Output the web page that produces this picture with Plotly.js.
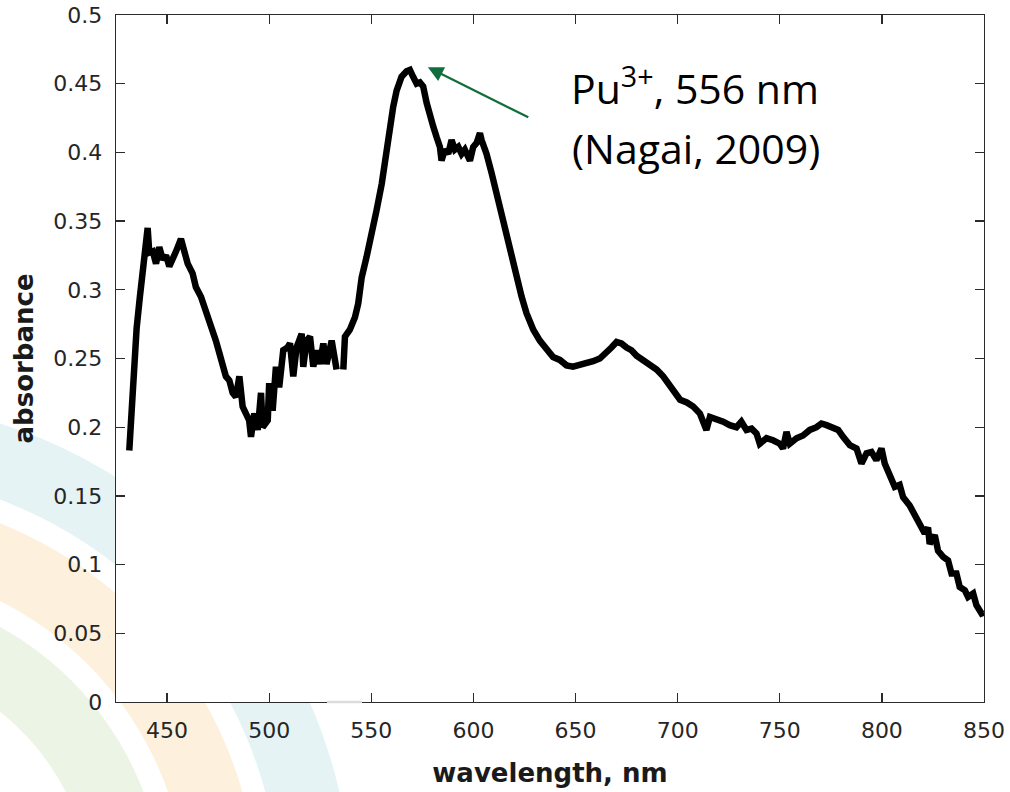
<!DOCTYPE html>
<html>
<head>
<meta charset="utf-8">
<script src="https://cdn.plot.ly/plotly-3.0.1.min.js"></script>
<style>html,body{margin:0;padding:0;background:#fff}#chart{width:1010px;height:792px}</style>
</head>
<body>
<div id="chart"></div>
<script>
// Spectrum: wavelength (nm) and absorbance
var wavelength = [431.5,432.7,433.8,435.1,436.7,438.4,439.2,440.5,441.3,443.0,444.6,446.2,447.9,449.5,451.1,452.8,454.4,456.8,458.4,460.1,462.5,464.1,466.6,468.2,469.9,472.3,473.9,475.6,477.2,478.8,480.5,482.1,483.7,485.4,487.0,488.6,490.2,491.1,492.7,494.4,496.0,496.8,499.3,500.0,501.7,503.3,504.9,506.9,509.0,510.2,511.8,513.4,515.9,516.7,518.3,520.0,521.6,523.2,524.9,526.5,528.1,530.6,533.0,534.6,536.3,537.1,539.5,542.0,543.6,545.3,547.7,550.2,552.6,555.1,556.7,559.1,560.7,562.4,564.8,567.3,568.9,570.5,572.2,573.8,575.4,577.1,578.7,580.3,582.0,583.6,584.4,586.0,587.7,589.3,590.9,592.6,594.2,595.8,598.3,599.9,601.6,603.2,604.0,606.4,608.9,611.3,613.8,616.2,618.7,621.1,623.6,626.0,629.3,632.5,635.8,639.0,642.3,645.6,648.8,652.1,655.4,658.6,661.9,665.2,667.6,670.1,672.5,675.0,677.4,679.9,683.1,686.4,689.7,692.9,696.2,699.1,701.2,704.5,707.6,710.9,714.1,715.8,719.0,722.3,725.5,728.8,731.2,733.7,736.2,738.6,740.2,743.5,746.7,750.0,751.6,753.3,754.9,758.2,761.4,764.7,768.0,770.4,772.9,776.1,778.6,781.0,784.3,787.6,790.0,792.5,794.9,797.3,799.8,801.4,803.9,806.3,808.7,810.4,813.6,816.1,818.5,821.0,822.6,823.4,825.9,827.5,830.0,832.4,834.1,836.5,838.1,840.6,842.2,844.7,846.3,848.8,849.9];
var absorbance = [0.183,0.220,0.245,0.272,0.295,0.314,0.325,0.345,0.327,0.328,0.319,0.331,0.322,0.325,0.317,0.322,0.328,0.337,0.329,0.319,0.312,0.302,0.295,0.288,0.280,0.273,0.263,0.254,0.247,0.237,0.234,0.225,0.222,0.237,0.215,0.210,0.205,0.193,0.210,0.198,0.225,0.200,0.205,0.232,0.212,0.244,0.229,0.256,0.258,0.261,0.237,0.258,0.268,0.244,0.263,0.266,0.244,0.256,0.246,0.261,0.246,0.263,0.242,null,0.242,0.266,0.271,0.280,0.290,0.309,0.324,0.339,0.358,0.377,0.394,0.414,0.433,0.445,0.455,0.459,0.460,0.455,0.450,0.451,0.448,0.436,0.426,0.419,0.411,0.404,0.394,0.402,0.399,0.409,0.402,0.404,0.399,0.402,0.394,0.404,0.407,0.414,0.409,0.399,0.385,0.370,0.356,0.339,0.324,0.309,0.295,0.283,0.271,0.263,0.256,0.251,0.249,0.245,0.244,0.245,0.246,0.248,0.250,0.254,0.258,0.262,0.261,0.258,0.256,0.252,0.249,0.245,0.242,0.237,0.230,0.224,0.220,0.218,0.215,0.210,0.198,0.2075,0.206,0.204,0.2015,0.200,0.204,0.198,0.199,0.1955,0.188,0.192,0.1905,0.188,0.1845,0.1966,0.188,0.192,0.194,0.198,0.200,0.2027,0.2015,0.199,0.198,0.193,0.187,0.1845,0.1736,0.181,0.182,0.176,0.1845,0.1736,0.165,0.1566,0.158,0.149,0.143,0.136,0.130,0.1226,0.127,0.115,0.1214,0.110,0.1056,0.103,0.0935,0.0935,0.0837,0.0813,0.0765,0.079,0.0704,0.0644,0.065];

var xTicks = [450,500,550,600,650,700,750,800,850];
var yTicks = [0,0.05,0.1,0.15,0.2,0.25,0.3,0.35,0.4,0.45,0.5];
var yTickText = ['0','0.05','0.1','0.15','0.2','0.25','0.3','0.35','0.4','0.45','0.5'];

var peakLabel = ['Pu<sup>3+</sup>, 556 nm', '(Nagai, 2009)'];

// layout geometry
var W = 1010, H = 792, mL = 116, mR = 26, mT = 15, mB = 90;
var pw = W - mL - mR, ph = H - mT - mB;
function px2pxX(p){ return (p - mL) / pw; }
function px2pxY(p){ return (H - mB - p) / ph; }

// decorative background rings (slide background), centre in page pixels
var ringC = [-152, 904];
function disc(r, color){
  return {type:'circle', xref:'paper', yref:'paper', layer:'below',
    x0: px2pxX(ringC[0]-r), x1: px2pxX(ringC[0]+r),
    y0: px2pxY(ringC[1]+r), y1: px2pxY(ringC[1]-r),
    fillcolor: color, line:{width:0}};
}
var shapes = [
  disc(504,'#e6f3f5'), disc(432,'#ffffff'),
  disc(410,'#fdf0dc'), disc(339,'#ffffff'),
  disc(316,'#ebf4e5'), disc(245,'#ffffff'),
  {type:'rect', xref:'paper', yref:'paper', layer:'below', x0:0, x1:1, y0:0, y1:1,
   fillcolor:'#ffffff', line:{width:0}},
  {type:'line', xref:'paper', yref:'paper', layer:'above',
   x0: px2pxX(327), x1: px2pxX(362), y0: 0, y1: 0, line:{color:'#dcdcdc', width:2.5}}
];

var trace = {
  x: wavelength, y: absorbance, type:'scatter', mode:'lines',
  line:{color:'#000000', width:6.5}, connectgaps:false, hoverinfo:'x+y'
};

var axisCommon = {
  showline:true, mirror:'ticks', linecolor:'#2b2b2b', linewidth:1.3,
  ticks:'inside', ticklen:9, tickwidth:1.3, tickcolor:'#2b2b2b',
  showgrid:false, zeroline:false,
  tickfont:{family:'"DejaVu Sans", sans-serif', size:22, color:'#262626'}
};

var layout = {
  width: W, height: H,
  margin:{l:mL, r:mR, t:mT, b:mB, pad:0},
  paper_bgcolor:'#ffffff', plot_bgcolor:'rgba(0,0,0,0)',
  showlegend:false,
  xaxis: Object.assign({}, axisCommon, {
    range:[425,850], tickmode:'array', tickvals:xTicks, ticktext:xTicks.map(String),
    ticklabelstandoff:8,
    title:{text:'wavelength, nm', font:{family:'"DejaVu Sans", sans-serif', size:26, color:'#1a1a1a', weight:'bold'}, standoff:22}
  }),
  yaxis: Object.assign({}, axisCommon, {
    range:[0,0.5], tickmode:'array', tickvals:yTicks, ticktext:yTickText,
    ticklabelstandoff:8,
    title:{text:'absorbance', font:{family:'"DejaVu Sans", sans-serif', size:26, color:'#1a1a1a', weight:'bold'}, standoff:12}
  }),
  shapes: shapes,
  annotations:[
    {x:577.7, y:0.462, ax:627.6, ay:0.425, xref:'x', yref:'y', axref:'x', ayref:'y',
     showarrow:true, arrowhead:2, arrowsize:1.4, arrowwidth:2.2, arrowcolor:'#0f6e3c', text:''},
    {x:708.4, y:0.448, xref:'x', yref:'y', showarrow:false, text:peakLabel[0],
     xanchor:'center', yanchor:'middle', font:{family:'"Open Sans", sans-serif', size:41, color:'#000'}},
    {x:709.0, y:0.403, xref:'x', yref:'y', showarrow:false, text:peakLabel[1],
     xanchor:'center', yanchor:'middle', font:{family:'"Open Sans", sans-serif', size:41, color:'#000'}}
  ]
};

Plotly.newPlot('chart', [trace], layout, {displayModeBar:false, staticPlot:true});
</script>
</body>
</html>
